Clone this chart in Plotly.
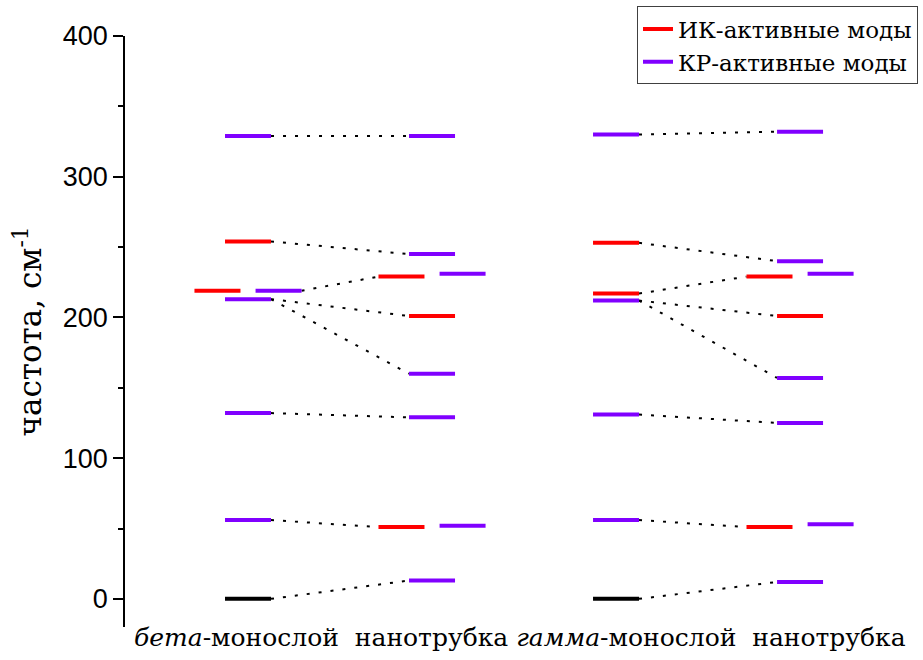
import plotly.graph_objects as go

# Vibrational mode frequencies, cm^-1
beta_mono_ir = [254, 219]
beta_mono_raman = [329, 219, 213, 132, 56]
beta_mono_zero = [0]
beta_tube_ir = [229, 201, 51]
beta_tube_raman = [329, 245, 231, 160, 129, 52, 13]

gamma_mono_ir = [253, 217]
gamma_mono_raman = [330, 212, 131, 56]
gamma_mono_zero = [0]
gamma_tube_ir = [229, 201, 51]
gamma_tube_raman = [332, 240, 231, 157, 125, 53, 12]

# Correlated modes: (monolayer frequency, nanotube frequency)
beta_links = [(329, 329), (254, 245), (219, 229), (213, 201),
              (213, 160), (132, 129), (56, 51), (0, 13)]
gamma_links = [(330, 332), (253, 240), (217, 229), (212, 201),
               (212, 157), (131, 125), (56, 51), (0, 12)]

legend_ir = "ИК-активные моды"
legend_raman = "КР-активные моды"
y_title = "частота, см<sup>-1</sup>"
x_caption = ("<i>бета</i>-монослой\u00a0\u00a0нанотрубка\u00a0"
             "<i>гамма</i>-монослой\u00a0\u00a0нанотрубка")

SERIF = "DejaVu Serif"
RED = "#FF0000"
PURPLE = "#8000FF"
HALF = 0.125      # half length of a level bar
SPLIT = 0.166     # sideways shift for nearly coincident IR/Raman levels
CLOSE = 3         # cm^-1

columns = [
    dict(x=1, ir=beta_mono_ir, raman=beta_mono_raman, zero=beta_mono_zero),
    dict(x=2, ir=beta_tube_ir, raman=beta_tube_raman, zero=[]),
    dict(x=3, ir=gamma_mono_ir, raman=gamma_mono_raman, zero=gamma_mono_zero),
    dict(x=4, ir=gamma_tube_ir, raman=gamma_tube_raman, zero=[]),
]


def levels(col):
    out = []
    for v in col["ir"]:
        shift = -SPLIT if any(abs(v - r) <= CLOSE for r in col["raman"]) else 0
        out.append(("ir", v, col["x"] + shift))
    for v in col["raman"]:
        shift = SPLIT if any(abs(v - i) <= CLOSE for i in col["ir"]) else 0
        out.append(("raman", v, col["x"] + shift))
    for v in col["zero"]:
        out.append(("zero", v, col["x"]))
    return out


col_levels = [levels(c) for c in columns]

fig = go.Figure()

# dotted correlation lines between monolayer and nanotube levels
lx, ly = [], []
for (left, right), links in (((0, 1), beta_links), ((2, 3), gamma_links)):
    for a, b in links:
        ca = max(c for _, v, c in col_levels[left] if v == a)
        cb = min(c for _, v, c in col_levels[right] if v == b)
        lx += [ca + HALF, cb - HALF, None]
        ly += [a, b, None]
fig.add_trace(go.Scatter(x=lx, y=ly, mode="lines", showlegend=False,
                         hoverinfo="skip",
                         line=dict(color="black", width=2, dash="3px,9px")))

styles = [("ir", RED, legend_ir, True),
          ("raman", PURPLE, legend_raman, True),
          ("zero", "black", None, False)]
for kind, color, name, show in styles:
    xs, ys = [], []
    for lv in col_levels:
        for k, v, c in lv:
            if k == kind:
                xs += [c - HALF, c + HALF, None]
                ys += [v, v, None]
    fig.add_trace(go.Scatter(x=xs, y=ys, mode="lines", name=name,
                             showlegend=show,
                             line=dict(color=color, width=4)))

fig.add_annotation(text=x_caption, xref="paper", yref="paper",
                   x=0.4985, y=-0.018, xanchor="center", yanchor="middle",
                   showarrow=False,
                   font=dict(family=SERIF, size=25, color="black"))

fig.update_layout(
    width=923, height=660,
    margin=dict(l=125, r=5, t=36, b=33),
    paper_bgcolor="white", plot_bgcolor="white",
    showlegend=True,
    legend=dict(x=1.0, y=1.05, xanchor="right", yanchor="top",
                bgcolor="white", bordercolor="#404040", borderwidth=1,
                font=dict(family=SERIF, size=23, color="black"),
                tracegroupgap=0),
    xaxis=dict(range=[0.3315, 4.641], showline=False, showgrid=False,
               zeroline=False, showticklabels=False, ticks=""),
    yaxis=dict(range=[-20, 400], showline=True, linecolor="black",
               linewidth=1.5, showgrid=False, zeroline=False,
               ticks="outside", ticklen=10, tickwidth=1.5, tickcolor="black",
               tickvals=[0, 100, 200, 300, 400],
               minor=dict(ticks="outside", ticklen=5, tickwidth=1.5,
                          tickcolor="black", dtick=50, tick0=0),
               tickfont=dict(family="Liberation Sans, Arial, sans-serif",
                             size=27, color="black"),
               title=dict(text=y_title, standoff=12,
                          font=dict(family=SERIF, size=31, color="black"))),
)

fig.write_html("out.html")
